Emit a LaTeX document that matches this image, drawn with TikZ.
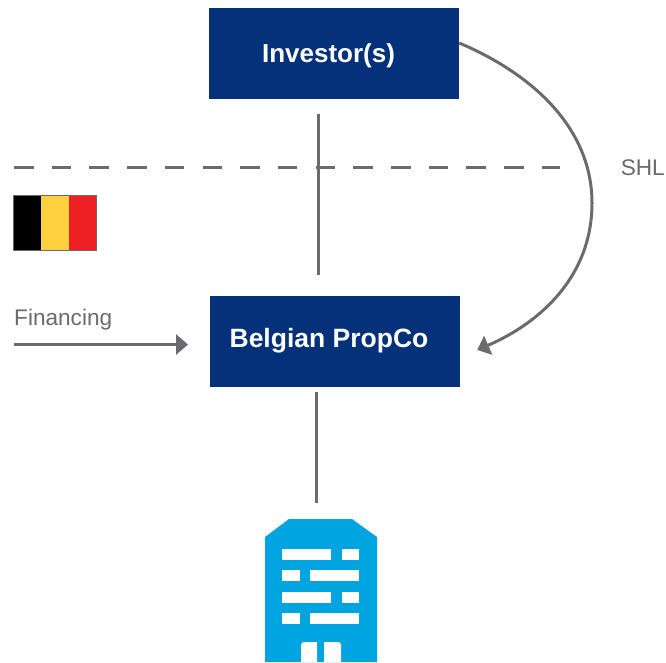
\documentclass[tikz,border=0pt]{standalone}
\usepackage{fontspec}
\setmainfont{Liberation Sans}
\usepackage{tikz}
\usetikzlibrary{positioning, arrows.meta}
\definecolor{boxblue}{HTML}{05317A}
\definecolor{linegray}{HTML}{6B6B6D}
\definecolor{towerblue}{HTML}{00A4E0}
\definecolor{flagyellow}{HTML}{FFD13F}
\definecolor{flagred}{HTML}{EF2024}
\tikzset {
    >={Triangle[length=12pt, width=20pt]},
    node distance=288pt,
    every box/.style={draw=none, fill=boxblue, text=white, minimum width=250pt, minimum height=91pt, inner sep=0pt, text depth=2pt, font=\fontsize{26}{30}\selectfont\bfseries},
    link/.style={draw=linegray, line width=3pt},
    caption/.style={text=linegray, inner sep=0pt, font=\fontsize{22.6}{26}\selectfont}
}

\begin{document}
\begin{tikzpicture}[x=1pt, y=-1pt]
    \useasboundingbox (0,0) rectangle (666,662);

    \node[every box, text height=19pt] (investor) at (334,53.5) {\hspace*{-11pt}Investor(s)};
    \node[every box, text height=13pt, below of=investor, xshift=1pt] (propco) {\hspace*{-12pt}\fontsize{26.5}{30}\selectfont Belgian PropCo};
    \node[caption, anchor=base west] (financing) at (14,325) {Financing};
    \node[caption, anchor=east] (shl) at (665,168) {SHL};

    \coordinate (borderstart) at (14,167);
    \coordinate (borderend) at (560,167);
    \coordinate (financingstart) at (14,344.5);
    \coordinate (financingend) at (188,344.5);
    \coordinate (towertop) at (316,503);

    % border between the countries
    \draw[link, dash pattern=on 19.5pt off 18.2pt] (borderstart) -- (borderend);

    \draw[link] ([xshift=-16pt]investor.south) -- ([xshift=-17pt]propco.north) [shorten <=15pt, shorten >=21pt];
    \draw[link] (propco.south -| towertop) -- (towertop) [shorten <=5pt];
    \draw[link, ->] (financingstart) -- (financingend);
    \draw[link, ->] ([yshift=10.5pt]investor.east) .. controls (535,75) and (592,130) .. (592,203)
        .. controls (592,275) and (542,322) .. ([xshift=17pt,yshift=-8.5pt]propco.east);

    % flag
    \fill[black] (13,195) rectangle (41,250.5);
    \fill[flagyellow] (41,195) rectangle (68.5,250.5);
    \fill[flagred] (68.5,195) rectangle (96.5,250.5);
    \draw[linegray, line width=0.7pt] (13,195) rectangle (96.5,250.5);

    % building
    \fill[towerblue] (265,537) -- (289,519) -- (352,519) -- (377,537) -- (377,662) -- (265,662) -- cycle;
    \foreach \y in {549,592} {
        \fill[white] (282,\y) rectangle (331,\y+10.5);
        \fill[white] (342,\y) rectangle (359,\y+10.5);
    }
    \foreach \y in {570,613} {
        \fill[white] (282,\y) rectangle (300,\y+10.5);
        \fill[white] (310,\y) rectangle (359,\y+10.5);
    }
    \fill[white] (301,645) -- (301,662) -- (317,662) -- (317,642) -- (304,642) arc[start angle=90, end angle=180, radius=3pt] -- cycle;
    \fill[white] (341,645) -- (341,662) -- (324,662) -- (324,642) -- (338,642) arc[start angle=90, end angle=0, radius=3pt] -- cycle;
\end{tikzpicture}
\end{document}
